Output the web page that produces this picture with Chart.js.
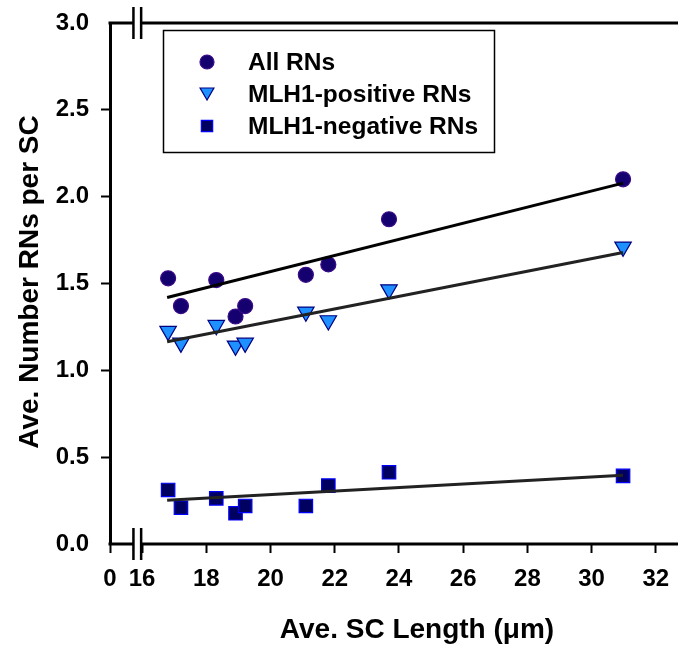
<!DOCTYPE html>
<html>
<head>
<meta charset="utf-8">
<script src="https://cdn.jsdelivr.net/npm/chart.js@4.4.1/dist/chart.umd.min.js"></script>
<style>
  body { margin: 0; background: #fff; }
  #chart { display: block; }
</style>
</head>
<body>
<canvas id="chart" width="678" height="649"></canvas>
<script>
// Dados
const scLength = [16.81, 17.21, 18.31, 18.91, 19.21, 21.10, 21.80, 23.69, 30.98];
const allRNs = [1.53, 1.37, 1.52, 1.31, 1.37, 1.55, 1.61, 1.87, 2.10];
const mlh1Positive = [1.226, 1.158, 1.26, 1.141, 1.158, 1.337, 1.287, 1.465, 1.711];
const mlh1Negative = [0.311, 0.209, 0.263, 0.177, 0.219, 0.219, 0.336, 0.413, 0.392];

// Retas de regressão (extremos)
const fitX = [16.78, 30.98];
const allFit = [1.419, 2.078];
const positiveFit = [1.165, 1.678];
const negativeFit = [0.252, 0.396];

// Eixos
const xTicks = [15, 16, 18, 20, 22, 24, 26, 28, 30, 32];
const xTickLabels = ['0', '16', '18', '20', '22', '24', '26', '28', '30', '32'];
const yTicks = [0, 0.5, 1.0, 1.5, 2.0, 2.5, 3.0];
const seriesNames = ['All RNs', 'MLH1-positive RNs', 'MLH1-negative RNs'];

const FONT = 'Liberation Sans, Arial, sans-serif';
const breakAt = [15.73, 15.97];
const AREA_RIGHT = 677;

function toPoints(xs, ys) {
    return xs.map((x, i) => ({ x: x, y: ys[i] }));
}

const markerStyles = [
    { pointStyle: 'circle', radius: 7.5, rotation: 0, fill: '#14006e', border: '#3a0a88' },
    { pointStyle: 'triangle', radius: 9.5, rotation: 180, fill: '#1e90ff', border: '#000080' },
    { pointStyle: 'rect', radius: 9.5, rotation: 0, fill: '#000060', border: '#0000ff' }
];

function scatterSet(label, ys, st) {
    return {
        type: 'scatter',
        label: label,
        data: toPoints(scLength, ys),
        pointStyle: st.pointStyle,
        pointRadius: st.radius,
        pointRotation: st.rotation,
        backgroundColor: st.fill,
        borderColor: st.border,
        borderWidth: 1.2,
        order: 1
    };
}

function fitSet(ys, color) {
    return {
        type: 'line',
        label: '',
        data: toPoints(fitX, ys),
        borderColor: color,
        borderWidth: 3,
        pointRadius: 0,
        fill: false,
        order: 0
    };
}

// Força a área do gráfico até a borda direita
const areaPlugin = {
    id: 'area',
    afterLayout(chart) {
        const xs = chart.scales.x;
        xs.right = AREA_RIGHT;
        xs.width = xs.right - xs.left;
        xs.configure();
        chart.chartArea.right = AREA_RIGHT;
        chart.chartArea.width = AREA_RIGHT - chart.chartArea.left;
    }
};

// Desenha molduras, quebras de eixo, legenda e títulos
const decorPlugin = {
    id: 'decor',
    afterDraw(chart) {
        const ctx = chart.ctx;
        const area = chart.chartArea;
        const xs = chart.scales.x;
        const b0 = xs.getPixelForValue(breakAt[0]);
        const b1 = xs.getPixelForValue(breakAt[1]);
        ctx.save();
        ctx.strokeStyle = '#000';
        ctx.lineWidth = 3;
        ctx.lineCap = 'butt';
        [area.top, area.bottom].forEach(y => {
            ctx.beginPath();
            ctx.moveTo(area.left - 1.5, y);
            ctx.lineTo(b0, y);
            ctx.moveTo(b1, y);
            ctx.lineTo(chart.width, y);
            ctx.stroke();
            ctx.lineWidth = 2.5;
            ctx.beginPath();
            ctx.moveTo(b0, y - 16);
            ctx.lineTo(b0, y + 16);
            ctx.moveTo(b1, y - 16);
            ctx.lineTo(b1, y + 16);
            ctx.stroke();
            ctx.lineWidth = 3;
        });

        // Legenda
        ctx.lineWidth = 1.5;
        ctx.strokeStyle = '#000';
        ctx.strokeRect(163.5, 30.5, 331, 122);
        const rows = [62, 94, 126];
        ctx.font = 'bold 24.5px ' + FONT;
        ctx.textBaseline = 'middle';
        ctx.textAlign = 'left';
        seriesNames.forEach((name, i) => {
            const st = markerStyles[i];
            ctx.fillStyle = st.fill;
            ctx.strokeStyle = st.border;
            ctx.lineWidth = 1.2;
            const r = i === 0 ? 7 : 8;
            Chart.helpers.drawPoint(ctx, { pointStyle: st.pointStyle, radius: r, rotation: st.rotation, borderWidth: 1.2 }, 207, rows[i] + (i === 1 ? -2 : 0));
            ctx.fillStyle = '#000';
            ctx.fillText(name, 248, rows[i] + 1);
        });

        // Títulos dos eixos
        ctx.fillStyle = '#000';
        ctx.font = 'bold 28px ' + FONT;
        ctx.textAlign = 'center';
        ctx.fillText('Ave. SC Length (\u03bcm)', 417, 630);
        ctx.translate(30, 282);
        ctx.rotate(-Math.PI / 2);
        ctx.fillText('Ave. Number RNs per SC', 0, 0);
        ctx.restore();
    }
};

function initChart() {
    const canvas = document.getElementById('chart');
    new Chart(canvas, {
        data: {
            datasets: [
                scatterSet(seriesNames[0], allRNs, markerStyles[0]),
                scatterSet(seriesNames[1], mlh1Positive, markerStyles[1]),
                scatterSet(seriesNames[2], mlh1Negative, markerStyles[2]),
                fitSet(allFit, '#000'),
                fitSet(positiveFit, '#222'),
                fitSet(negativeFit, '#222')
            ]
        },
        options: {
            responsive: false,
            animation: false,
            events: [],
            layout: { padding: { top: 23, right: 1, left: 0, bottom: 0 } },
            plugins: {
                legend: { display: false },
                tooltip: { enabled: false }
            },
            scales: {
                x: {
                    type: 'linear',
                    min: 15,
                    max: 32.66,
                    afterBuildTicks: scale => {
                        scale.ticks = xTicks.map(v => ({ value: v }));
                    },
                    afterFit: scale => { scale.height = 105; },
                    border: { display: false },
                    grid: {
                        drawOnChartArea: false,
                        drawTicks: true,
                        tickLength: 9,
                        tickWidth: 2,
                        tickColor: '#000'
                    },
                    ticks: {
                        autoSkip: false,
                        maxRotation: 0,
                        padding: 12,
                        color: '#000',
                        font: { family: FONT, size: 24, weight: 'bold' },
                        callback: (v, i) => xTickLabels[i]
                    }
                },
                y: {
                    type: 'linear',
                    min: 0,
                    max: 3,
                    afterBuildTicks: scale => {
                        scale.ticks = yTicks.map(v => ({ value: v }));
                    },
                    afterFit: scale => {
                        scale.width = 110;
                        scale.paddingTop = 0;
                        scale.paddingBottom = 0;
                    },
                    border: { display: true, color: '#000', width: 3 },
                    grid: {
                        drawOnChartArea: false,
                        drawTicks: true,
                        tickLength: 9,
                        tickWidth: 2,
                        tickColor: c => (c.tick && (c.tick.value === 0 || c.tick.value === 3)) ? 'rgba(0,0,0,0)' : '#000'
                    },
                    ticks: {
                        padding: 12,
                        color: '#000',
                        font: { family: FONT, size: 24, weight: 'bold' },
                        callback: v => v.toFixed(1)
                    }
                }
            }
        },
        plugins: [areaPlugin, decorPlugin]
    });
}

document.addEventListener('DOMContentLoaded', initChart);
</script>
</body>
</html>
